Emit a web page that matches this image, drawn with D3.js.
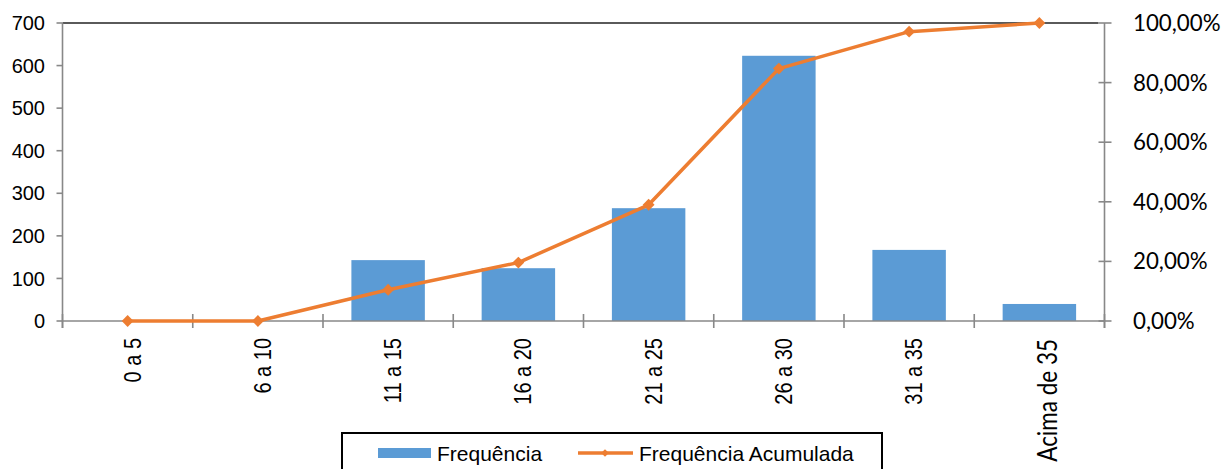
<!DOCTYPE html>
<html><head><meta charset="utf-8">
<script src="https://cdn.jsdelivr.net/npm/d3@7"></script>
<style>body{margin:0;background:#fff}svg{display:block}</style>
</head><body>
<svg id="c" width="1224" height="469"></svg>
<script>
const categories = ["0 a 5","6 a 10","11 a 15","16 a 20","21 a 25","26 a 30","31 a 35","Acima de 35"];
const frequencia = [0,0,143,124,265,623,167,40];
const acumulada = [0,0,10.5,19.6,39.0,84.7,97.1,100];
const leftTicks = [0,100,200,300,400,500,600,700];
const rightTicks = [0,20,40,60,80,100];
const legendLabels = ["Frequência","Frequência Acumulada"];

const svg = d3.select("#c");
const L = 62.5, R = 1104.5, T = 23, B = 321;
const x = d3.scaleBand().domain(categories).range([L,R]).paddingInner(0.436).paddingOuter(0.218);
const step = (R-L)/categories.length;
const yL = d3.scaleLinear().domain([0,700]).range([B,T]);
const yR = d3.scaleLinear().domain([0,100]).range([B,T]);
const axisCol = "#888";
const sans = "'Liberation Sans', Arial, sans-serif";
const cal = "Lato, 'Open Sans', sans-serif";

// top border
svg.append("line").attr("x1",L).attr("x2",R-6).attr("y1",T).attr("y2",T)
  .attr("stroke","#5a5a5a").attr("stroke-width",2);

// bars
svg.selectAll("rect.bar").data(frequencia).join("rect").attr("class","bar")
  .attr("x",(d,i)=>x(categories[i])).attr("width",x.bandwidth())
  .attr("y",d=>yL(d)).attr("height",d=>B-yL(d)).attr("fill","#5B9BD5");

// left axis
svg.append("line").attr("x1",L).attr("x2",L).attr("y1",T).attr("y2",B+7).attr("stroke",axisCol).attr("stroke-width",1.6);
svg.selectAll("line.lt").data(leftTicks).join("line").attr("class","lt")
  .attr("x1",L-6).attr("x2",L).attr("y1",d=>yL(d)).attr("y2",d=>yL(d)).attr("stroke",axisCol).attr("stroke-width",1.6);
svg.selectAll("text.lt").data(leftTicks).join("text").attr("class","lt")
  .attr("x",45).attr("y",d=>yL(d)).attr("dy","0.36em").attr("text-anchor","end")
  .attr("font-family",sans).attr("font-size",20).attr("fill","#000").text(d=>d);

// right axis
svg.append("line").attr("x1",R).attr("x2",R).attr("y1",T).attr("y2",B+7).attr("stroke",axisCol).attr("stroke-width",1.6);
svg.selectAll("line.rt").data(rightTicks).join("line").attr("class","rt")
  .attr("x1",R-6).attr("x2",R+7).attr("y1",d=>yR(d)).attr("y2",d=>yR(d)).attr("stroke",axisCol).attr("stroke-width",1.6);
svg.selectAll("text.rt").data(rightTicks).join("text").attr("class","rt")
  .attr("x",1133).attr("y",d=>yR(d)).attr("dy","0.36em").attr("text-anchor","start")
  .attr("font-family",cal).attr("font-size",22.3).attr("fill","#000").text(d=>d3.format(".2f")(d).replace(".",",")+"%");

// x axis
svg.append("line").attr("x1",L).attr("x2",R).attr("y1",B).attr("y2",B).attr("stroke",axisCol).attr("stroke-width",1.6);
const bounds = d3.range(categories.length+1).map(i=>L+i*step);
svg.selectAll("line.xt").data(bounds).join("line").attr("class","xt")
  .attr("x1",d=>d).attr("x2",d=>d).attr("y1",B-7).attr("y2",B+7).attr("stroke",axisCol).attr("stroke-width",1.6);
svg.selectAll("text.xl").data(categories).join("text").attr("class","xl")
  .attr("transform",(d,i)=>{const cx=x(d)+x.bandwidth()/2; const last=i===categories.length-1; return `translate(${cx+(last?18:13)},${last?339:338}) rotate(-90) scale(1,1.22)`;})
  .attr("text-anchor","end")
  .attr("font-family",(d,i)=>i===categories.length-1?cal:sans)
  .attr("font-size",(d,i)=>i===categories.length-1?22.5:20).attr("fill","#000").text(d=>d);

// line
const cx = i => x(categories[i])+x.bandwidth()/2;
const line = d3.line().x((d,i)=>cx(i)).y(d=>yR(d));
svg.append("path").datum(acumulada).attr("d",line).attr("fill","none")
  .attr("stroke","#ED7D31").attr("stroke-width",3.5).attr("stroke-linejoin","round");
svg.selectAll("path.mk").data(acumulada).join("path").attr("class","mk")
  .attr("transform",(d,i)=>`translate(${cx(i)},${yR(d)}) rotate(45)`)
  .attr("d",d3.symbol().type(d3.symbolSquare).size(70)).attr("fill","#ED7D31");

// legend
const lg = svg.append("g");
lg.append("rect").attr("x",342).attr("y",433).attr("width",540).attr("height",60)
  .attr("fill","#fff").attr("stroke","#000").attr("stroke-width",2);
lg.append("rect").attr("x",378).attr("y",448).attr("width",53).attr("height",10).attr("fill","#5B9BD5");
lg.append("text").attr("x",437).attr("y",461).attr("font-family",sans).attr("font-size",21).text(legendLabels[0]);
lg.append("line").attr("x1",578).attr("x2",633).attr("y1",453).attr("y2",453).attr("stroke","#ED7D31").attr("stroke-width",3.5);
lg.append("path").attr("transform","translate(605,453) rotate(45)").attr("d",d3.symbol().type(d3.symbolSquare).size(30)).attr("fill","#ED7D31");
lg.append("text").attr("x",639).attr("y",461).attr("font-family",sans).attr("font-size",21).text(legendLabels[1]);
</script>
</body></html>
